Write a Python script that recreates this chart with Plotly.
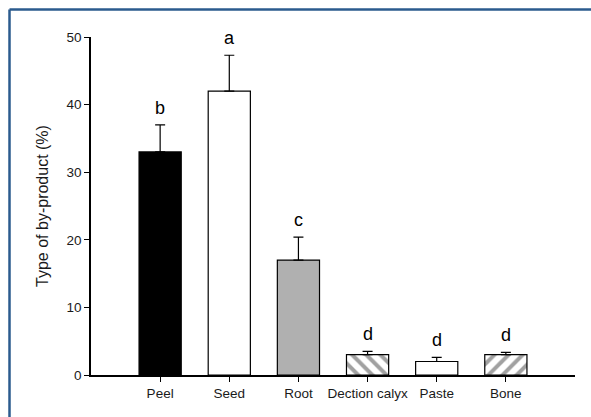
import plotly.graph_objects as go

categories = ["Peel", "Seed", "Root", "Dection calyx", "Paste", "Bone"]
values = [33, 42, 17, 3, 2, 3]
errors = [4, 5.3, 3.4, 0.5, 0.6, 0.35]
letters = ["b", "a", "c", "d", "d", "d"]
y_ticks = [0, 10, 20, 30, 40, 50]

fill_colors = ["black", "white", "#b0b0b0", "white", "white", "white"]
patterns = ["", "", "", "\\", "", "/"]

W, H = 591, 417
L, R, T, B = 91, 16, 37, 42
pw, ph = W - L - R, H - T - B
FONT = "Liberation Sans, Arial"

fig = go.Figure()
fig.add_trace(go.Bar(
    x=list(range(len(categories))),
    y=values,
    width=0.61,
    marker=dict(
        color=fill_colors,
        line=dict(color="black", width=1.2),
        pattern=dict(shape=patterns, fgcolor="black", bgcolor="white",
                     size=10, solidity=0.4, fillmode="overlay"),
    ),
    error_y=dict(type="data", symmetric=False, array=errors,
                 arrayminus=[0] * len(errors), color="black",
                 thickness=1.2, width=5),
    showlegend=False,
))

for i, (v, e, l) in enumerate(zip(values, errors, letters)):
    fig.add_annotation(x=i, y=v + e, text=l, showarrow=False,
                       yanchor="bottom", yshift=5,
                       font=dict(size=18, color="black", family=FONT))

# frame border (top and left lines)
fx0 = (9.5 - L) / pw
fy1 = (H - B - 9.5) / ph
fig.add_shape(type="line", xref="paper", yref="paper",
              x0=fx0, x1=(W + 5 - L) / pw, y0=fy1, y1=fy1,
              line=dict(color="#2b5b8e", width=2.5))
fig.add_shape(type="line", xref="paper", yref="paper",
              x0=fx0, x1=fx0, y0=(H - B - (H + 5)) / ph, y1=fy1,
              line=dict(color="#2b5b8e", width=2.5))

fig.update_layout(
    width=W, height=H,
    margin=dict(l=L, r=R, t=T, b=B),
    plot_bgcolor="white", paper_bgcolor="white",
    font=dict(family=FONT, size=13.5, color="#1a1a1a"),
    bargap=0.3,
)
fig.update_xaxes(
    range=[-1, 6], tickmode="array",
    tickvals=list(range(len(categories))), ticktext=categories,
    ticks="outside", ticklen=5, tickwidth=1.2, tickcolor="black",
    showline=True, linecolor="black", linewidth=1.5,
    showgrid=False, zeroline=False,
)
fig.update_yaxes(
    range=[0, 50], tickmode="array", tickvals=y_ticks,
    ticks="outside", ticklen=5, tickwidth=1.2, tickcolor="black",
    showline=True, linecolor="black", linewidth=1.5,
    showgrid=False, zeroline=False,
    title=dict(text="Type of by-product (%)", font=dict(size=16, color="#1a1a1a"),
               standoff=14),
)

fig.write_html("out.html", config={"displayModeBar": False},
               post_script="document.body.style.margin='0';document.body.style.overflow='hidden';")
